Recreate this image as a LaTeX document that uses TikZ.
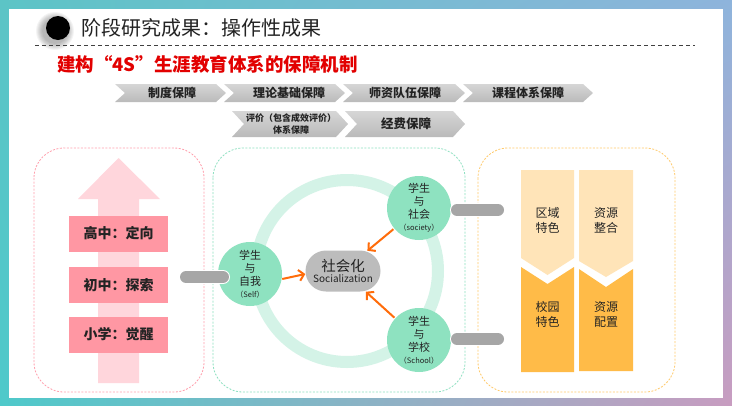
\documentclass[tikz,border=0pt]{standalone}
\usepackage{fontspec}
\setmainfont{Noto Sans CJK SC}
\usetikzlibrary{shapes.misc,arrows.meta,shadings}
\definecolor{bgtl}{RGB}{92,196,198}
\definecolor{bgtr}{RGB}{142,180,220}
\definecolor{bgbl}{RGB}{78,201,202}
\definecolor{bgbr}{RGB}{200,156,192}
\definecolor{pinkdash}{RGB}{255,160,174}
\definecolor{pinkarrow}{RGB}{255,214,220}
\definecolor{pinkbox}{RGB}{255,151,163}
\definecolor{greendash}{RGB}{140,224,192}
\definecolor{ringc}{RGB}{212,243,231}
\definecolor{mint}{RGB}{142,226,192}
\definecolor{socgray}{RGB}{188,188,188}
\definecolor{orangearr}{RGB}{255,108,10}
\definecolor{capgray}{RGB}{166,166,166}
\definecolor{orangedash}{RGB}{255,202,106}
\definecolor{lightorange}{RGB}{255,228,184}
\definecolor{darkorange}{RGB}{255,187,72}
\definecolor{redtitle}{RGB}{226,0,0}
\definecolor{txt}{RGB}{35,35,35}
\definecolor{chevtop}{RGB}{214,214,214}
\definecolor{chevbot}{RGB}{186,186,186}
\newcommand{\chevshape}[5]{%
  \shade[chevfill] (#1,#3) -- ({#2-#5},#3) -- (#2,{(#3+#4)/2}) -- ({#2-#5},#4) -- (#1,#4) -- ({#1+#5},{(#3+#4)/2}) -- cycle;}
\begin{document}
\begin{tikzpicture}[x=1pt,y=-1pt,
  chevfill/.style={top color=chevtop, bottom color=chevbot},
  chevtext/.style={inner sep=0pt, text=txt, font=\bfseries\fontsize{12}{14}\selectfont, align=center},
  panel/.style={line width=0.8pt, dash pattern=on 2pt off 1.5pt, rounded corners=30pt},
  stagebox/.style={fill=pinkbox, minimum width=99pt, minimum height=36pt, inner sep=0pt, text=txt, font=\bfseries\fontsize{14}{16}\selectfont},
  student/.style={circle, fill=mint, minimum size=64pt, inner sep=0pt, text=txt, align=center, font=\fontsize{11}{13}\selectfont},
  arr/.style={draw=orangearr, line width=2pt, -{Straight Barb[length=5pt,width=11pt]}},
  capsule/.style={line cap=round, line width=12pt, draw=capgray},
  capsuleback/.style={line cap=round, line width=14pt, draw=white},
  coltext/.style={inner sep=0pt, text=txt, align=center, font=\fontsize{12}{15}\selectfont}
]
\useasboundingbox (0,0) rectangle (732,405);
% background
\shade[upper left=bgtl, upper right=bgtr, lower left=bgbl, lower right=bgbr] (0,0) rectangle (732,405);
\fill[white] (9,9) rectangle (723,398);
% header bullet with shadow
\foreach \i in {1,...,7} {\fill[black, opacity=0.045] (55,31) circle[radius={12+\i}];}
\fill[black] (58,28) circle[radius=12];
\node[anchor=west, inner sep=0pt, text=txt, font=\fontsize{20}{24}\selectfont] (title) at (81,28) {阶段研究成果：操作性成果};
\draw[black!75, line width=1pt, dash pattern=on 4pt off 3pt] (35,45) -- (695,45);
\node[anchor=west, inner sep=0pt, text=redtitle, font=\bfseries\fontsize{18.5}{22}\selectfont] (subtitle) at (57,64) {建构“4S”生涯教育体系的保障机制};
% chevrons row 1
\chevshape{115}{226}{84}{102}{10}
\chevshape{224}{345}{84}{102}{10}
\chevshape{343}{465}{84}{102}{10}
\chevshape{463}{593}{84}{102}{10}
\node[chevtext] (c1) at (172,93) {制度保障};
\node[chevtext] (c2) at (289,93) {理论基础保障};
\node[chevtext] (c3) at (405,93) {师资队伍保障};
\node[chevtext] (c4) at (528,93) {课程体系保障};
% chevrons row 2
\chevshape{232}{348}{111}{137}{12}
\chevshape{345}{465}{111}{137}{12}
\node[chevtext, font=\bfseries\fontsize{9}{11.5}\selectfont] (c5) at (291,124) {评价（包含成效评价）\\体系保障};
\node[chevtext, font=\bfseries\fontsize{12.5}{14}\selectfont] (c6) at (406,124) {经费保障};
% panels
\draw[panel, draw=pinkdash] (34,148) rectangle (204,392);
\draw[panel, draw=greendash] (213,148) rectangle (465,392);
\draw[panel, draw=orangedash] (478,148) rectangle (675,392);
% left panel
\fill[pinkarrow] (98,383) -- (98,199) -- (78,199) -- (118.5,158) -- (160,199) -- (139,199) -- (139,383) -- cycle;
\node[stagebox] (high) at (118.5,233.5) {高中：定向};
\node[stagebox] (mid) at (118.5,285) {初中：探索};
\node[stagebox] (low) at (118.5,334.5) {小学：觉醒};
% middle panel
\draw[ringc, line width=12pt] (347,271) circle[radius=91];
\node[student] (self) at (250,274) {学生\\与\\自我\\[-1pt]{\fontsize{7.5}{9}\selectfont（Self）}};
\node[student] (society) at (419,208) {学生\\与\\社会\\[-1pt]{\fontsize{7.5}{9}\selectfont（society）}};
\node[student] (school) at (419,340) {学生\\与\\学校\\[-1pt]{\fontsize{7.5}{9}\selectfont（School）}};
\node[rounded rectangle, fill=socgray, minimum width=75pt, minimum height=41pt, inner sep=0pt, align=center, text=txt] (socz) at (343,271) {{\fontsize{14.5}{17}\selectfont 社会化}\\[-1pt]{\fontsize{10}{12}\selectfont Socialization}};
\draw[arr] ([yshift=-5pt]self.east) -- ([yshift=-3pt]socz.west);
\draw[arr, shorten <=1pt, shorten >=1pt] (society) -- (socz);
\draw[arr, shorten <=1pt, shorten >=1pt] (school) -- (socz);
% connectors
\coordinate (lcapL) at (186,277);
\coordinate (lcapR) at (223,277);
\coordinate (rcap1L) at (457,210);
\coordinate (rcap1R) at (498,210);
\coordinate (rcap2L) at (457,339);
\coordinate (rcap2R) at (498,339);
\draw[capsuleback] (lcapL) -- (lcapR);
\draw[capsule] (lcapL) -- (lcapR);
\draw[capsuleback] (rcap1L) -- (rcap1R);
\draw[capsule] (rcap1L) -- (rcap1R);
\draw[capsuleback] (rcap2L) -- (rcap2R);
\draw[capsule] (rcap2L) -- (rcap2R);
% right panel
\fill[lightorange] (521,170) -- (574,170) -- (574,258) -- (547.5,275) -- (521,258) -- cycle;
\fill[darkorange] (521,267) -- (547.5,284) -- (574,267) -- (574,372) -- (521,372) -- cycle;
\fill[lightorange] (579,170) -- (633,170) -- (633,261) -- (606,277) -- (579,261) -- cycle;
\fill[darkorange] (579,269) -- (606,287) -- (633,269) -- (633,371) -- (579,371) -- cycle;
\node[coltext] (r1) at (547.5,220.5) {区域\\特色};
\node[coltext] (r2) at (606,220.5) {资源\\整合};
\node[coltext] (r3) at (547.5,314.5) {校园\\特色};
\node[coltext] (r4) at (606,314.5) {资源\\配置};
\end{tikzpicture}
\end{document}
